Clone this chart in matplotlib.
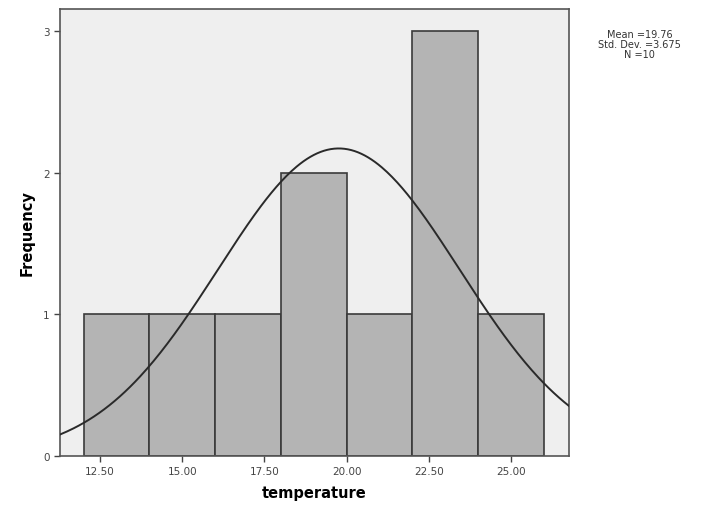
import numpy as np
import matplotlib.pyplot as plt

# histogram of temperature (SPSS style)
bin_edges = [12, 14, 16, 18, 20, 22, 24, 26]
counts = [1, 1, 1, 2, 1, 3, 1]
x_ticks = [12.5, 15.0, 17.5, 20.0, 22.5, 25.0]
y_ticks = [0, 1, 2, 3]
mean = 19.76
std = 3.675
n = 10

fig = plt.figure(figsize=(7.07, 5.06), dpi=100)
ax = fig.add_axes([0.085, 0.097, 0.72, 0.883])
ax.set_facecolor('#efefef')

lefts = bin_edges[:-1]
widths = np.diff(bin_edges)
ax.bar(lefts, counts, width=widths, align='edge', color='#b4b4b4',
       edgecolor='#3a3a3a', linewidth=1.2, zorder=2)

# normal curve scaled to counts
xs = np.linspace(11.28, 26.77, 300)
bw = widths[0]
ys = n * bw / (std * np.sqrt(2 * np.pi)) * np.exp(-0.5 * ((xs - mean) / std) ** 2)
ax.plot(xs, ys, color='#2a2a2a', linewidth=1.4, zorder=3)

ax.set_xlim(11.28, 26.77)
ax.set_ylim(0, 3.155)
ax.set_xticks(x_ticks)
ax.set_xticklabels(['%.2f' % t for t in x_ticks])
ax.set_yticks(y_ticks)
ax.tick_params(axis='both', labelsize=7.5, colors='#444444', length=4, width=1)
for s in ax.spines.values():
    s.set_color('#555555')
    s.set_linewidth(1.2)

ax.set_xlabel('temperature', fontsize=10.5, fontweight='bold', labelpad=6)
ax.set_ylabel('Frequency', fontsize=10.5, fontweight='bold', labelpad=6)

fig.text(0.905, 0.912, 'Mean =%.2f\nStd. Dev. =%.3f\nN =%d' % (mean, std, n),
         ha='center', va='center', fontsize=7, color='#333333', linespacing=1.0)

fig.savefig('out.png', dpi=100)
